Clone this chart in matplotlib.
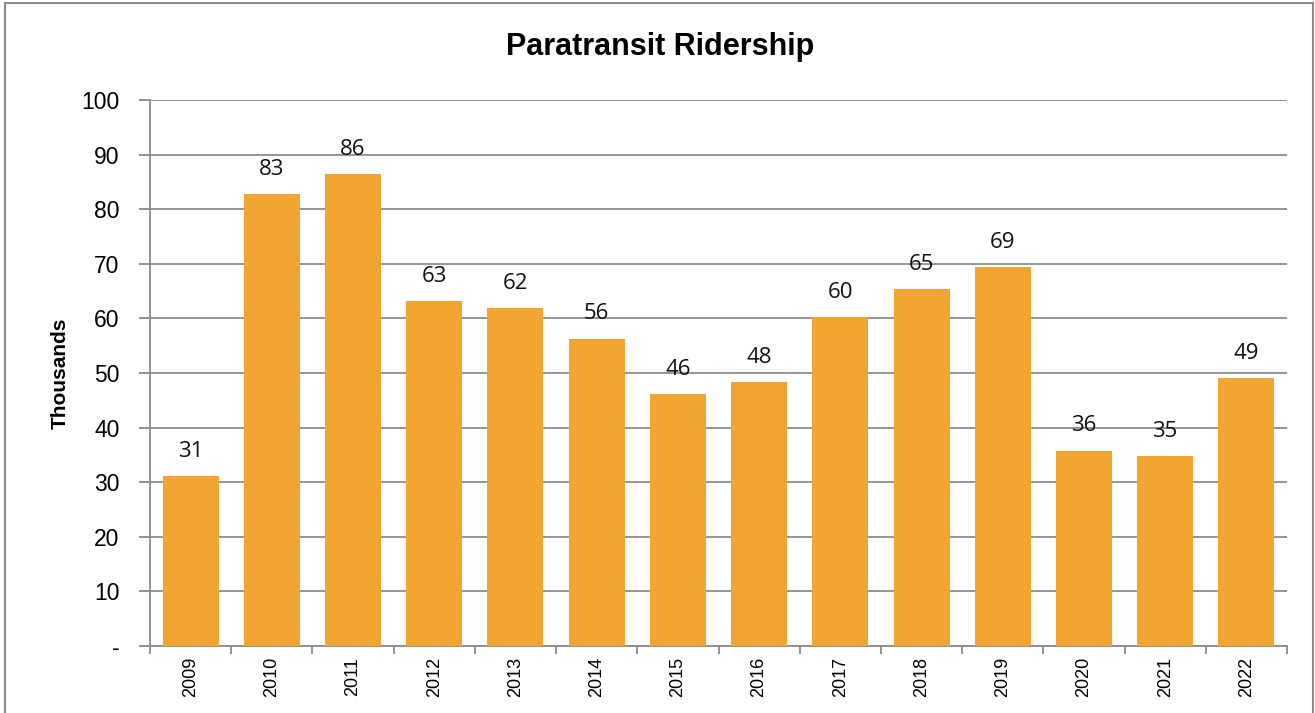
import matplotlib
matplotlib.use("Agg")
import matplotlib.pyplot as plt
from matplotlib.patches import Rectangle
import numpy as np

years = ["2009", "2010", "2011", "2012", "2013", "2014", "2015",
         "2016", "2017", "2018", "2019", "2020", "2021", "2022"]
ridership = [31.1, 82.8, 86.4, 63.1, 61.9, 56.3, 46.2,
             48.4, 60.2, 65.3, 69.4, 35.8, 34.8, 49.1]
yticks = [0, 10, 20, 30, 40, 50, 60, 70, 80, 90, 100]
yticklabels = ["-", "10", "20", "30", "40", "50", "60", "70", "80", "90", "100"]

narrow = ["Liberation Sans Narrow", "Liberation Sans", "DejaVu Sans"]
label_font = ["Open Sans", "DejaVu Sans"]

fig = plt.figure(figsize=(13.15, 7.13), dpi=100)
ax = fig.add_axes([150/1315, 1-646/713, (1287-150)/1315, (646-100)/713])

x = np.arange(len(years))
bars = ax.bar(x, ridership, width=0.69, color="#F2A431", zorder=3)

for xi, v in zip(x, ridership):
    ax.text(xi, v + 2.6, f"{v:.0f}", ha="center", va="bottom",
            fontsize=16, family=label_font, color="#111111", zorder=4)

ax.set_xlim(-0.5, len(years) - 0.5)
ax.set_ylim(0, 100)
ax.set_yticks(yticks)
ax.set_yticklabels(yticklabels, family=narrow, fontsize=16.5)
ax.set_xticks(x)
ax.set_xticklabels(years, rotation=90, family=narrow, fontsize=13)
ax.set_xticks(np.arange(-0.5, len(years), 1.0), minor=True)
ax.tick_params(axis="x", which="major", length=0, pad=8)
ax.tick_params(axis="x", which="minor", length=6, color="#888888", width=1.3)
ax.tick_params(axis="y", length=8, color="#888888", width=1.3, pad=14)

ax.grid(axis="y", color="#8c8c8c", linewidth=1.3, zorder=0)
for side in ["top", "right"]:
    ax.spines[side].set_visible(False)
for side in ["left", "bottom"]:
    ax.spines[side].set_color("#8c8c8c")
    ax.spines[side].set_linewidth(1.3)

ax.set_ylabel("Thousands", family=narrow, fontsize=15, fontweight="bold", labelpad=8)
fig.text(660/1315, 1-47/713, "Paratransit Ridership", ha="center", va="center",
         family=narrow, fontsize=22, fontweight="bold")

fig.patches.append(Rectangle((5/1315, -0.01), (1313-5)/1315, 1-3/713 + 0.01,
                             transform=fig.transFigure, fill=False,
                             edgecolor="#8c8c8c", linewidth=1.5))

fig.savefig("out.png", dpi=100)
